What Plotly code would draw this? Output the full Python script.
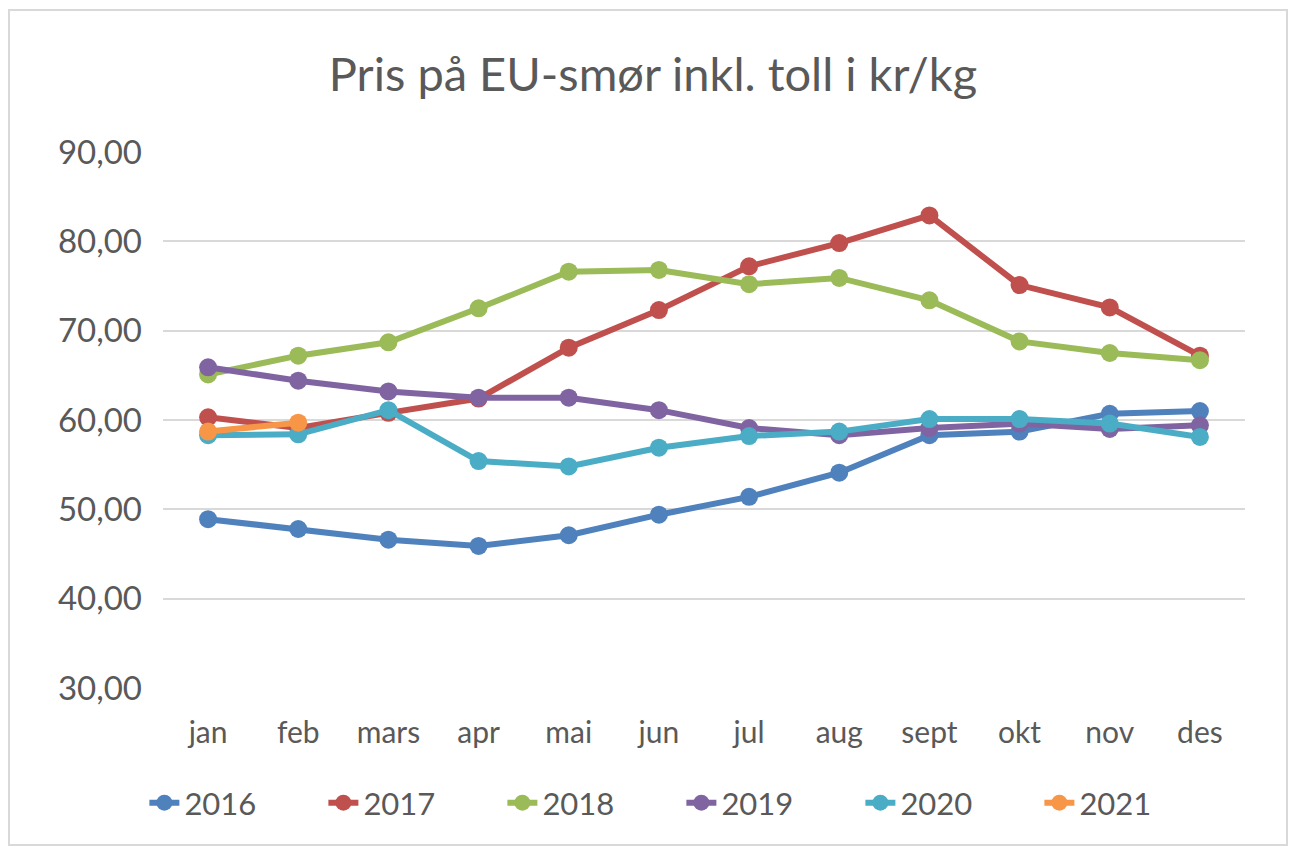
import plotly.graph_objects as go

# ── Data ────────────────────────────────────────────────────────────────────
MONTHS = ["jan", "feb", "mars", "apr", "mai", "jun",
          "jul", "aug", "sept", "okt", "nov", "des"]

Y2016 = [48.9, 47.8, 46.6, 45.9, 47.1, 49.4, 51.4, 54.1, 58.3, 58.7, 60.7, 61.0]
Y2017 = [60.3, 59.1, 60.8, 62.4, 68.1, 72.3, 77.2, 79.8, 82.9, 75.1, 72.6, 67.2]
Y2018 = [65.1, 67.2, 68.7, 72.5, 76.6, 76.8, 75.2, 75.9, 73.4, 68.8, 67.5, 66.7]
Y2019 = [65.9, 64.4, 63.2, 62.5, 62.5, 61.1, 59.1, 58.3, 59.1, 59.6, 59.0, 59.4]
Y2020 = [58.3, 58.4, 61.1, 55.4, 54.8, 56.9, 58.2, 58.7, 60.1, 60.1, 59.6, 58.1]
Y2021 = [58.7, 59.7]

SERIES = [
    ("2016", Y2016, "#4F81BD"),
    ("2017", Y2017, "#C0504D"),
    ("2018", Y2018, "#9BBB59"),
    ("2019", Y2019, "#8064A2"),
    ("2020", Y2020, "#4BACC6"),
    ("2021", Y2021, "#F79646"),
]

FONT = "Lato, 'Open Sans', sans-serif"
TEXT = "#595959"

# page body has an 8px margin, so the figure is drawn 8px smaller
W, H = 1290, 845
L, R, T, B = 155, 53, 144, 165

fig = go.Figure()
for name, ys, colour in SERIES:
    fig.add_trace(go.Scatter(
        x=MONTHS[:len(ys)], y=ys, name=name,
        mode="lines+markers",
        line=dict(color=colour, width=6),
        marker=dict(color=colour, size=18),
    ))

# light frame round the whole chart
pw, ph = W - L - R, H - T - B
fig.add_shape(
    type="rect", xref="paper", yref="paper",
    x0=(1 - L) / pw, x1=(1279 - L) / pw,
    y0=-(837 - (H - B)) / ph, y1=1 + (T - 2) / ph,
    line=dict(color="#D9D9D9", width=2), layer="below",
)

fig.update_layout(
    width=W, height=H,
    paper_bgcolor="white", plot_bgcolor="white",
    margin=dict(l=L, r=R, t=T, b=B, autoexpand=False),
    separators=",.",
    font=dict(family=FONT, color=TEXT, size=30),
    title=dict(
        text="Pris på EU-smør inkl. toll i kr/kg",
        x=0.5, xref="container", xanchor="center",
        y=1 - 67 / H, yanchor="middle",
        font=dict(size=47, color=TEXT, family=FONT),
    ),
    xaxis=dict(
        type="category", range=[-0.5, 11.5],
        showgrid=False, showline=False, zeroline=False,
        ticks="", ticklabelstandoff=24,
        tickfont=dict(size=30, color=TEXT),
    ),
    yaxis=dict(
        range=[30, 90], dtick=10, tickformat=".2f",
        showgrid=True, gridcolor="#D9D9D9", gridwidth=2,
        zeroline=False, showline=False, ticks="",
        ticklabelstandoff=20,
        tickfont=dict(size=33, color=TEXT),
    ),
    legend=dict(
        orientation="h", xref="container", x=0.522, xanchor="center",
        yref="container", y=1 - 795 / H, yanchor="middle",
        font=dict(size=31, color=TEXT),
        entrywidth=134, entrywidthmode="pixels",
        bgcolor="rgba(0,0,0,0)",
    ),
    showlegend=True,
)

fig.write_html("out.html")
